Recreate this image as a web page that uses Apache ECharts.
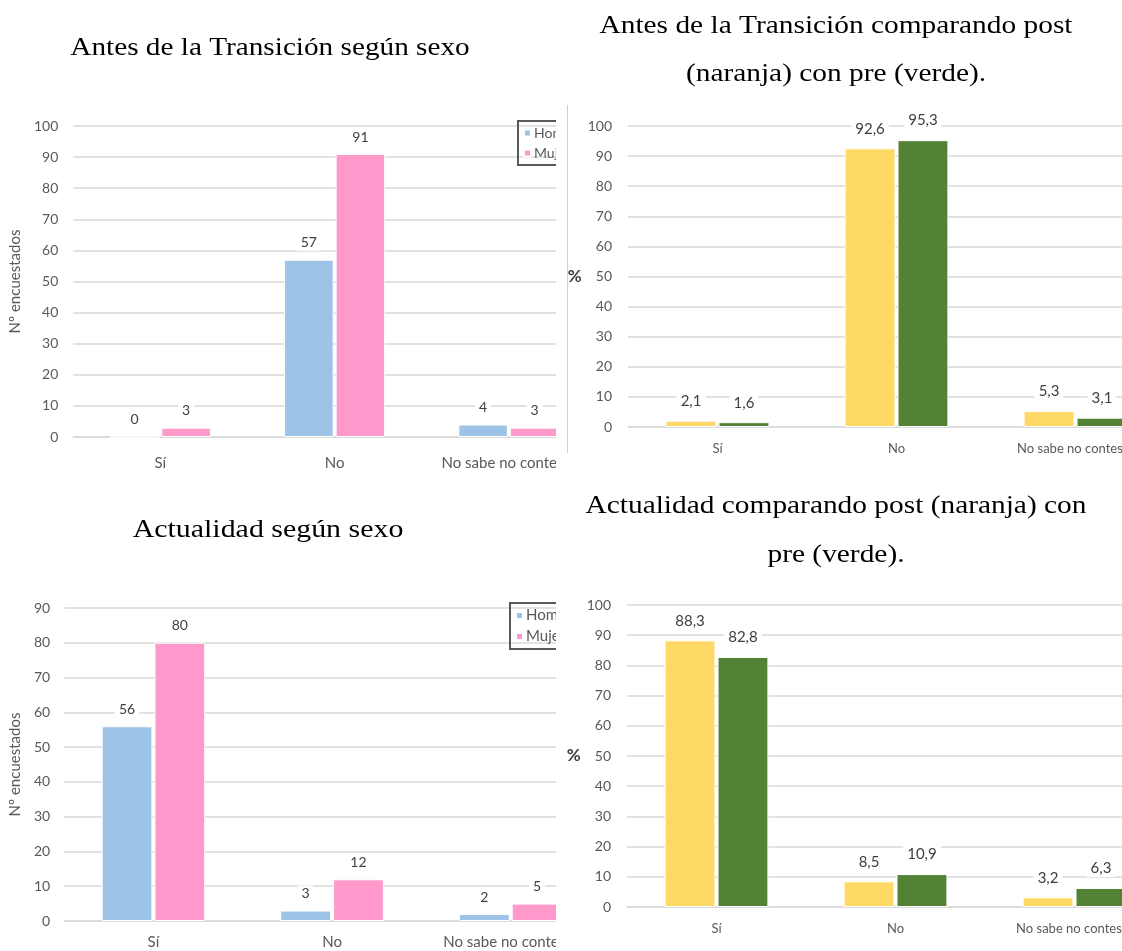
<!DOCTYPE html>
<html><head><meta charset="utf-8">
<script src="https://cdn.jsdelivr.net/npm/echarts@6/dist/echarts.min.js"></script>
<style>
html,body{margin:0;padding:0;background:#fff;width:1122px;height:951px;overflow:hidden}
.panel{position:absolute;overflow:hidden;background:#fff}
.inner{position:absolute;left:0;top:0}
</style></head><body>
<div class="panel" id="p1" style="left:0;top:0;width:556px;height:480px"><div class="inner" id="c1" style="width:700px;height:480px"></div></div>
<div class="panel" id="p2" style="left:556px;top:0;width:566px;height:480px"><div class="inner" id="c2" style="width:700px;height:480px"></div></div>
<div class="panel" id="p3" style="left:0;top:480px;width:556px;height:471px"><div class="inner" id="c3" style="width:700px;height:471px"></div></div>
<div class="panel" id="p4" style="left:556px;top:480px;width:566px;height:471px"><div class="inner" id="c4" style="width:700px;height:471px"></div></div>
<script>
// ---- data ----
const categories = ['Sí', 'No', 'No sabe no contesta'];
const antesHombre = [0, 57, 4];
const antesMujer = [3, 91, 3];
const antesPost = [2.1, 92.6, 5.3];
const antesPre = [1.6, 95.3, 3.1];
const actualHombre = [56, 3, 2];
const actualMujer = [80, 12, 5];
const actualPost = [88.3, 8.5, 3.2];
const actualPre = [82.8, 10.9, 6.3];
const seriesSexo = ['Hombre', 'Mujer'];
const seriesComp = ['Post (naranja)', 'Pre (verde)'];
const titleTL = ['Antes de la Transición según sexo'];
const titleTR = ['Antes de la Transición comparando post', '(naranja) con pre (verde).'];
const titleBL = ['Actualidad según sexo'];
const titleBR = ['Actualidad comparando post (naranja) con', 'pre (verde).'];

const FONT = 'Lato, "Liberation Sans", sans-serif';
const SERIF = '"Liberation Serif", "Times New Roman", serif';
const BLUE = '#9DC3E6', PINK = '#FF99CC', YELLOW = '#FFD966', GREEN = '#548235';

function titleGraphics(lines, cx, y0, lh, sx) {
  return lines.map((t, i) => ({
    type: 'text', x: cx, y: y0 + i * lh, z: 100, scaleX: sx,
    style: { text: t, fontSize: 26, fontFamily: SERIF, fill: '#000', align: 'center', verticalAlign: 'middle' }
  }));
}

function makeOption(cfg) {
  const isPct = cfg.pct;
  const fmt = p => String(p.value).replace('.', ',');
  const mkSeries = (name, data, color) => ({
    name, type: 'bar', data, barGap: '4%', barCategoryGap: '42%',
    itemStyle: { color, borderColor: '#fff', borderWidth: 1 },
    label: {
      show: true, position: 'top', distance: cfg.labDist,
      color: '#404040', fontFamily: FONT, fontSize: cfg.labSize,
      backgroundColor: '#fff', padding: [1, 4],
      formatter: fmt
    }
  });
  const opt = {
    animation: false,
    textStyle: { fontFamily: FONT },
    grid: cfg.grid,
    graphic: cfg.graphic,
    xAxis: {
      type: 'category', data: categories,
      axisLine: { lineStyle: { color: '#D9D9D9', width: 1.5 } },
      axisTick: { show: false },
      axisLabel: { color: '#595959', fontSize: cfg.catSize, margin: cfg.catMargin, fontFamily: FONT, interval: 0 }
    },
    yAxis: {
      type: 'value', min: 0, max: cfg.max, interval: 10,
      name: cfg.yName, nameLocation: 'middle', nameGap: cfg.nameGap, nameRotate: isPct ? 0 : 90,
      nameTextStyle: isPct ? { color: '#404040', fontSize: 17, fontWeight: 'bold', fontFamily: FONT }
                           : { color: '#595959', fontSize: 15, fontFamily: FONT },
      axisLine: { show: false }, axisTick: { show: false },
      axisLabel: { color: '#595959', fontSize: cfg.tickSize, margin: cfg.tickMargin, fontFamily: FONT },
      splitLine: { lineStyle: { color: '#D9D9D9', width: 1.5 } }
    },
    series: [
      mkSeries(cfg.names[0], cfg.d1, cfg.c1),
      mkSeries(cfg.names[1], cfg.d2, cfg.c2)
    ]
  };
  if (cfg.legend) opt.legend = cfg.legend;
  return opt;
}

function sexLegend(left, top, fs) {
  return {
    data: seriesSexo, orient: 'vertical', left: left, top: top,
    icon: 'rect', itemWidth: 7, itemHeight: 7, itemGap: 6,
    borderColor: '#595959', borderWidth: 2, padding: [5, 6, 5, 5],
    textStyle: { color: '#595959', fontSize: fs, fontFamily: FONT, padding: [0, 0, 0, -2] }
  };
}

const c1 = echarts.init(document.getElementById('c1'), null, { renderer: 'canvas' });
c1.setOption(makeOption({
  grid: { left: 64, right: 104, top: 126, bottom: 43 },
  max: 100, yName: 'Nº encuestados', nameGap: 40, pct: false,
  names: seriesSexo, d1: antesHombre, d2: antesMujer, c1: BLUE, c2: PINK,
  labDist: 9, labSize: 14, catSize: 15, catMargin: 19, tickSize: 14, tickMargin: 15,
  legend: sexLegend(518, 121, 14),
  graphic: titleGraphics(titleTL, 270, 48, 48, 1.125)
}));

const c2 = echarts.init(document.getElementById('c2'), null, { renderer: 'canvas' });
c2.setOption(makeOption({
  grid: { left: 72, right: 91, top: 126, bottom: 53 },
  max: 100, yName: '%', nameGap: 41, pct: true,
  names: seriesComp, d1: antesPost, d2: antesPre, c1: YELLOW, c2: GREEN,
  labDist: 11, labSize: 15, catSize: 13, catMargin: 15, tickSize: 14, tickMargin: 16,
  graphic: titleGraphics(titleTR, 280, 26, 48, 1.13).concat([{
    type: 'line', z: 50, shape: { x1: 11.5, y1: 105, x2: 11.5, y2: 453 },
    style: { stroke: '#D0D0D0', lineWidth: 1 }
  }])
}));

const c3 = echarts.init(document.getElementById('c3'), null, { renderer: 'canvas' });
c3.setOption(makeOption({
  grid: { left: 60, right: 100, top: 128, bottom: 30 },
  max: 90, yName: 'Nº encuestados', nameGap: 38, pct: false,
  names: seriesSexo, d1: actualHombre, d2: actualMujer, c1: BLUE, c2: PINK,
  labDist: 9, labSize: 14, catSize: 15, catMargin: 14, tickSize: 14, tickMargin: 14,
  legend: sexLegend(510, 123, 15),
  graphic: titleGraphics(titleBL, 268, 50, 48, 1.15)
}));

const c4 = echarts.init(document.getElementById('c4'), null, { renderer: 'canvas' });
c4.setOption(makeOption({
  grid: { left: 71, right: 92, top: 125, bottom: 44 },
  max: 100, yName: '%', nameGap: 40, pct: true,
  names: seriesComp, d1: actualPost, d2: actualPre, c1: YELLOW, c2: GREEN,
  labDist: 11, labSize: 15, catSize: 13, catMargin: 15, tickSize: 14, tickMargin: 16,
  graphic: titleGraphics(titleBR, 280, 26, 49, 1.13)
}));
</script>
</body></html>
